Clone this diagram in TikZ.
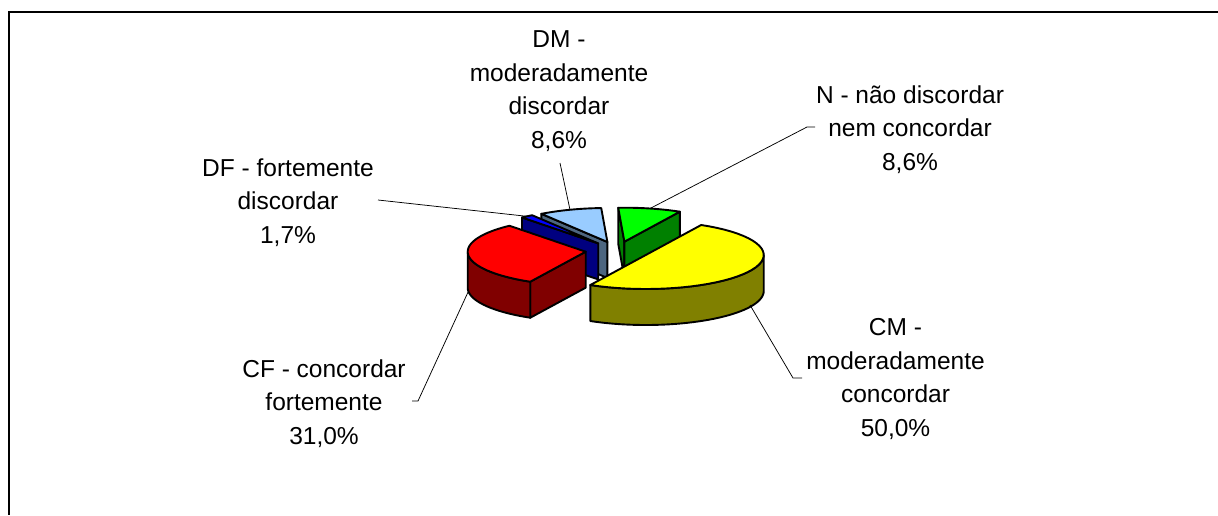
\documentclass[tikz,border=0pt]{standalone}
\usepackage{fontspec}
\setmainfont{Liberation Sans}
\definecolor{topCM}{HTML}{FFFF00}\definecolor{sideCM}{HTML}{808000}
\definecolor{topCF}{HTML}{FF0000}\definecolor{sideCF}{HTML}{800000}
\definecolor{topN}{HTML}{00FF00}\definecolor{sideN}{HTML}{008000}
\definecolor{topDM}{HTML}{99CCFF}\definecolor{sideDM}{HTML}{4D6680}
\definecolor{topDF}{HTML}{0000FF}\definecolor{sideDF}{HTML}{000080}
% pie ellipse radii and thickness
\newcommand\pra{118}
\newcommand\prb{34}
\newcommand\pdep{36}
% flat cut face of a wedge: cx, cy, angle, colour
\newcommand\cutface[4]{\filldraw[wedge,fill=#4] (#1,#2) -- ({#1+\pra*cos(#3)},{#2-\prb*sin(#3)}) -- ({#1+\pra*cos(#3)},{#2-\prb*sin(#3)+\pdep}) -- (#1,#2+\pdep) -- cycle;}
% curved outer rim: cx, cy, from, to, colour
\newcommand\rimface[5]{\filldraw[wedge,fill=#5] plot[domain=#3:#4,samples=40] ({#1+\pra*cos(\x)},{#2-\prb*sin(\x)}) -- plot[domain=#4:#3,samples=40] ({#1+\pra*cos(\x)},{#2-\prb*sin(\x)+\pdep}) -- cycle;}
% top face: cx, cy, from, to, colour
\newcommand\topface[5]{\filldraw[wedge,fill=#5] (#1,#2) -- plot[domain=#3:#4,samples=40] ({#1+\pra*cos(\x)},{#2-\prb*sin(\x)}) -- cycle;}
\begin{document}
\begin{tikzpicture}[x=1pt,y=-1pt,
  wedge/.style={draw=black,line width=1.9pt,line join=round},
  leader/.style={draw=black,line width=0.75pt},
  lbl/.style={align=center,anchor=north,inner sep=0pt,font=\fontsize{24.5}{33.5}\selectfont}]
\useasboundingbox (0,0) rectangle (1218,515);
\fill[white] (0,0) rectangle (1218,515);
% chart frame
\draw[line width=1.6pt] (1218,12) -- (9,12) -- (9,515);

% DM - moderadamente discordar (93 to 124.03 deg)
\cutface{607.4}{242.0}{124.03}{sideDM}
\topface{607.4}{242.0}{93}{124.03}{topDM}
% N - nao discordar nem concordar (61.97 to 93 deg)
\cutface{624.4}{241.7}{93}{sideN}
\cutface{624.4}{241.7}{61.97}{sideN}
\topface{624.4}{241.7}{61.97}{93}{topN}
% DF - fortemente discordar (124.03 to 130.24 deg)
\cutface{598.2}{243.4}{130.24}{sideDF}
\topface{598.2}{243.4}{124.03}{130.24}{topDF}
% CF - concordar fortemente (130.24 to 241.97 deg)
\cutface{585.7}{251.7}{241.97}{sideCF}
\rimface{585.7}{251.7}{180}{241.97}{sideCF}
\topface{585.7}{251.7}{130.24}{241.97}{topCF}
% CM - moderadamente concordar (-118.03 to 61.97 deg)
\rimface{645.75}{255.0}{-118.03}{0}{sideCM}
\topface{645.75}{255.0}{-118.03}{61.97}{topCM}

% labels
\node[lbl] (lblDM) at (559,30.5) {DM -\\moderadamente\\discordar\\8,6\%};
\node[lbl] (lblDF) at (288,158.5) {DF - fortemente\\discordar\\1,7\%};
\node[lbl] (lblN) at (910,85.5) {N - não discordar\\nem concordar\\8,6\%};
\node[lbl] (lblCF) at (324,359.5) {CF - concordar\\fortemente\\31,0\%};
\node[lbl] (lblCM) at (895.5,318.5) {CM -\\moderadamente\\concordar\\50,0\%};

% leader lines
\coordinate (dmA) at (560,163);   \coordinate (dmB) at (570,209.8);
\coordinate (dfA) at (378,200);   \coordinate (dfB) at (526.9,216.3);
\coordinate (nA) at (815,127);    \coordinate (nK) at (807,127);   \coordinate (nB) at (650,208.5);
\coordinate (cfA) at (412,401);   \coordinate (cfK) at (418,401);  \coordinate (cfB) at (468.4,291.3);
\coordinate (cmA) at (802,378);   \coordinate (cmK) at (793,378);  \coordinate (cmB) at (750,305);
\draw[leader] (dmA) -- (dmB);
\draw[leader] (dfA) -- (dfB);
\draw[leader] (nA) -- (nK) -- (nB);
\draw[leader] (cfA) -- (cfK) -- (cfB);
\draw[leader] (cmA) -- (cmK) -- (cmB);
\end{tikzpicture}
\end{document}
